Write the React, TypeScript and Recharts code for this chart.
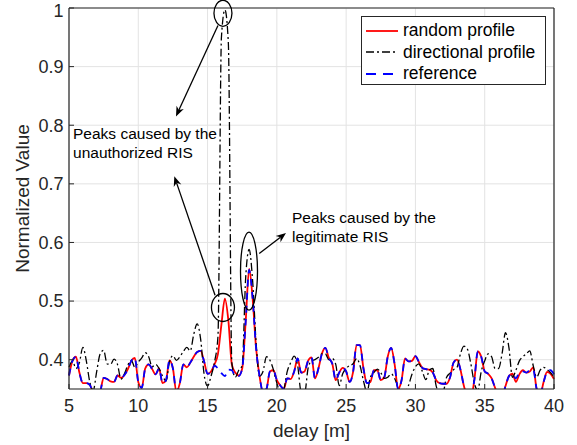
import React from "react";
import { LineChart, Line, XAxis, YAxis, CartesianGrid, ReferenceDot, ReferenceLine, Legend } from "recharts";

const RED = "#ff0000";
const BLUE = "#0000ff";
const BLACK = "#000000";
const AXIS = "#262626";
const GRID = "#e3e3e3";
const FONT = "Helvetica, Arial, 'Liberation Sans', sans-serif";

// delay [m], sampled every 0.25 m
const delay = [
  5, 5.25, 5.5, 5.75, 6, 6.25, 6.5, 6.75, 7, 7.25, 7.5, 7.75, 8, 8.25, 8.5, 8.75,
  9, 9.25, 9.5, 9.75, 10, 10.25, 10.5, 10.75, 11, 11.25, 11.5, 11.75, 12, 12.25, 12.5, 12.75,
  13, 13.25, 13.5, 13.75, 14, 14.25, 14.5, 14.75, 15, 15.25, 15.5, 15.75, 16, 16.25, 16.5, 16.75,
  17, 17.25, 17.5, 17.75, 18, 18.25, 18.5, 18.75, 19, 19.25, 19.5, 19.75, 20, 20.25, 20.5, 20.75,
  21, 21.25, 21.5, 21.75, 22, 22.25, 22.5, 22.75, 23, 23.25, 23.5, 23.75, 24, 24.25, 24.5, 24.75,
  25, 25.25, 25.5, 25.75, 26, 26.25, 26.5, 26.75, 27, 27.25, 27.5, 27.75, 28, 28.25, 28.5, 28.75,
  29, 29.25, 29.5, 29.75, 30, 30.25, 30.5, 30.75, 31, 31.25, 31.5, 31.75, 32, 32.25, 32.5, 32.75,
  33, 33.25, 33.5, 33.75, 34, 34.25, 34.5, 34.75, 35, 35.25, 35.5, 35.75, 36, 36.25, 36.5, 36.75,
  37, 37.25, 37.5, 37.75, 38, 38.25, 38.5, 38.75, 39, 39.25, 39.5, 39.75, 40,
];

const randomProfile = [
  0.373, 0.398, 0.405, 0.378, 0.36, 0.36, 0.357, 0.343, 0.335, 0.345, 0.369, 0.367, 0.363, 0.362, 0.373, 0.369,
  0.374, 0.384, 0.398, 0.403, 0.362, 0.352, 0.385, 0.392, 0.384, 0.375, 0.385, 0.36, 0.365, 0.399, 0.385, 0.345,
  0.36, 0.392, 0.387, 0.395, 0.405, 0.413, 0.415, 0.397, 0.376, 0.38, 0.392, 0.41, 0.46, 0.504, 0.467, 0.392,
  0.378, 0.373, 0.385, 0.465, 0.555, 0.505, 0.42, 0.372, 0.345, 0.35, 0.38, 0.382, 0.365, 0.356, 0.35, 0.368,
  0.367, 0.38, 0.402, 0.378, 0.38, 0.398, 0.404, 0.368, 0.385, 0.41, 0.42, 0.403, 0.393, 0.365, 0.378, 0.386,
  0.38, 0.362, 0.379, 0.425, 0.425, 0.385, 0.36, 0.362, 0.382, 0.382, 0.365, 0.37, 0.405, 0.42, 0.392, 0.35,
  0.365, 0.402, 0.397, 0.398, 0.406, 0.396, 0.386, 0.384, 0.383, 0.378, 0.365, 0.36, 0.359, 0.359, 0.37, 0.395,
  0.4, 0.383, 0.355, 0.337, 0.335, 0.365, 0.414, 0.405, 0.38, 0.376, 0.368, 0.352, 0.338, 0.336, 0.355, 0.372,
  0.376, 0.362, 0.375, 0.382, 0.378, 0.38, 0.387, 0.35, 0.34, 0.362, 0.379, 0.376, 0.367,
];

const directionalProfile = [
  0.387, 0.398, 0.385, 0.395, 0.421, 0.398, 0.362, 0.348, 0.38, 0.41, 0.416, 0.393, 0.392, 0.401, 0.392, 0.367,
  0.376, 0.391, 0.399, 0.387, 0.396, 0.403, 0.412, 0.405, 0.388, 0.392, 0.385, 0.372, 0.364, 0.396, 0.407, 0.399,
  0.405, 0.414, 0.421, 0.415, 0.443, 0.461, 0.435, 0.375, 0.355, 0.372, 0.396, 0.44, 0.95, 0.997, 0.94, 0.395,
  0.37, 0.382, 0.39, 0.54, 0.588, 0.535, 0.43, 0.372, 0.38, 0.405, 0.399, 0.383, 0.36, 0.345, 0.35, 0.38,
  0.395, 0.406, 0.39, 0.345, 0.342, 0.385, 0.398, 0.4, 0.404, 0.41, 0.41, 0.4, 0.402, 0.392, 0.356, 0.376,
  0.385, 0.39, 0.393, 0.402, 0.39, 0.364, 0.345, 0.37, 0.378, 0.384, 0.378, 0.368, 0.37, 0.376, 0.368, 0.353,
  0.345, 0.343, 0.356, 0.375, 0.388, 0.393, 0.38, 0.366, 0.382, 0.385, 0.355, 0.342, 0.345, 0.37, 0.377, 0.383,
  0.387, 0.41, 0.423, 0.418, 0.393, 0.36, 0.348, 0.38, 0.398, 0.41, 0.405, 0.385, 0.385, 0.41, 0.446, 0.42,
  0.37, 0.382, 0.398, 0.405, 0.41, 0.415, 0.39, 0.37, 0.382, 0.387, 0.383, 0.378, 0.37,
];

const referenceProfile = [
  0.373, 0.398, 0.405, 0.378, 0.36, 0.36, 0.357, 0.343, 0.335, 0.345, 0.369, 0.367, 0.363, 0.362, 0.373, 0.369,
  0.374, 0.384, 0.398, 0.403, 0.362, 0.352, 0.385, 0.392, 0.384, 0.375, 0.385, 0.36, 0.365, 0.399, 0.385, 0.345,
  0.36, 0.392, 0.387, 0.395, 0.405, 0.413, 0.415, 0.397, 0.376, 0.378, 0.39, 0.385, 0.377, 0.372, 0.383, 0.382,
  0.372, 0.372, 0.385, 0.465, 0.553, 0.505, 0.42, 0.372, 0.345, 0.35, 0.38, 0.382, 0.365, 0.356, 0.35, 0.368,
  0.367, 0.38, 0.402, 0.378, 0.38, 0.398, 0.404, 0.368, 0.385, 0.41, 0.42, 0.403, 0.393, 0.365, 0.378, 0.386,
  0.38, 0.362, 0.379, 0.425, 0.425, 0.385, 0.36, 0.362, 0.382, 0.382, 0.365, 0.37, 0.405, 0.42, 0.392, 0.35,
  0.365, 0.402, 0.397, 0.398, 0.406, 0.396, 0.386, 0.384, 0.383, 0.378, 0.365, 0.36, 0.359, 0.359, 0.37, 0.395,
  0.4, 0.383, 0.355, 0.337, 0.335, 0.365, 0.414, 0.405, 0.38, 0.376, 0.368, 0.352, 0.338, 0.336, 0.355, 0.372,
  0.376, 0.368, 0.378, 0.38, 0.378, 0.382, 0.383, 0.35, 0.34, 0.362, 0.379, 0.382, 0.375,
];

const xTicks = [5, 10, 15, 20, 25, 30, 35, 40];
const yTicks = [0.4, 0.5, 0.6, 0.7, 0.8, 0.9, 1];

const seriesNames = ["random profile", "directional profile", "reference"];

const rows = delay.map((d, i) => ({
  delay: d,
  random: randomProfile[i],
  directional: directionalProfile[i],
  reference: referenceProfile[i],
}));

// annotations, in data coordinates
const ellipseNotes = [
  { x: 16.11, y: 0.991, rx: 9, ry: 13 },
  { x: 16.11, y: 0.489, rx: 11.5, ry: 14 },
  { x: 17.99, y: 0.551, rx: 8.5, ry: 39 },
];
const arrowNotes = [
  { x1: 15.75, y1: 0.97, x2: 12.72, y2: 0.815 },
  { x1: 15.54, y1: 0.51, x2: 12.6, y2: 0.713 },
  { x1: 18.73, y1: 0.581, x2: 20.66, y2: 0.616 },
];
const textNotes = [
  { x: 5.29, y: 0.786, lines: ["Peaks caused by the", "unauthorized RIS"] },
  { x: 21.09, y: 0.643, lines: ["Peaks caused by the", "legitimate RIS"] },
];

function Arrow(props: any) {
  const { x1, y1, x2, y2 } = props;
  const ang = Math.atan2(y2 - y1, x2 - x1);
  const len = 10;
  const half = 4;
  const bx = x2 - len * Math.cos(ang);
  const by = y2 - len * Math.sin(ang);
  const nx = -Math.sin(ang);
  const ny = Math.cos(ang);
  const mx = x2 - len * 0.7 * Math.cos(ang);
  const my = y2 - len * 0.7 * Math.sin(ang);
  const pts = `${x2},${y2} ${bx + nx * half},${by + ny * half} ${mx},${my} ${bx - nx * half},${by - ny * half}`;
  return (
    <g>
      <line x1={x1} y1={y1} x2={mx} y2={my} stroke={BLACK} strokeWidth={1.3} />
      <polygon points={pts} fill={BLACK} />
    </g>
  );
}

function LegendBox() {
  const sample = (i: number) => {
    if (i === 0) return <line x1={0} y1={5} x2={32} y2={5} stroke={RED} strokeWidth={1.8} />;
    if (i === 1)
      return <line x1={0} y1={5} x2={32} y2={5} stroke={BLACK} strokeWidth={1.3} strokeDasharray="8 3 2 3" />;
    return <line x1={0} y1={5} x2={32} y2={5} stroke={BLUE} strokeWidth={1.8} strokeDasharray="10 7" />;
  };
  return (
    <div
      style={{
        boxSizing: "border-box",
        width: 185,
        height: 69,
        border: `1px solid ${AXIS}`,
        background: "#fff",
        paddingTop: 3,
        fontFamily: FONT,
        fontSize: 17.5,
        color: BLACK,
      }}
    >
      {seriesNames.map((name, i) => (
        <div key={name} style={{ display: "flex", alignItems: "center", height: 21.5, paddingLeft: 4 }}>
          <svg width={32} height={10} style={{ marginRight: 5 }}>
            {sample(i)}
          </svg>
          <span style={{ lineHeight: "21px" }}>{name}</span>
        </div>
      ))}
    </div>
  );
}

export default function App() {
  const tickStyle = { fill: AXIS, fontSize: 18, fontFamily: FONT };
  return (
    <div style={{ position: "absolute", left: 0, top: 0, background: "#fff" }}>
      <LineChart
        width={577}
        height={445}
        data={rows}
        margin={{ top: 7, right: 22, left: 0, bottom: 0 }}
        style={{ fontFamily: FONT }}
      >
        <CartesianGrid stroke={GRID} strokeWidth={1} />
        <XAxis
          dataKey="delay"
          type="number"
          domain={[5, 40]}
          ticks={xTicks}
          height={56}
          tickSize={-5}
          tickMargin={15}
          tick={tickStyle}
          axisLine={{ stroke: AXIS, strokeWidth: 1.2 }}
          tickLine={{ stroke: AXIS }}
          label={{
            content: (p: any) => (
              <text
                x={p.viewBox.x + p.viewBox.width / 2}
                y={p.viewBox.y + 48}
                textAnchor="middle"
                fill={AXIS}
                fontSize={19}
                fontFamily={FONT}
              >
                delay [m]
              </text>
            ),
          }}
        />
        <XAxis
          xAxisId="top"
          orientation="top"
          type="number"
          domain={[5, 40]}
          ticks={xTicks}
          height={1}
          tickSize={-5}
          tick={false}
          axisLine={{ stroke: AXIS, strokeWidth: 1.2 }}
          tickLine={{ stroke: AXIS }}
        />
        <YAxis
          type="number"
          domain={[0.35, 1]}
          ticks={yTicks}
          allowDataOverflow
          width={69}
          tickSize={-5}
          tickMargin={10.5}
          tick={tickStyle}
          axisLine={{ stroke: AXIS, strokeWidth: 1.2 }}
          tickLine={{ stroke: AXIS }}
          label={{
            content: (p: any) => {
              const cx = p.viewBox.x + 22;
              const cy = p.viewBox.y + p.viewBox.height / 2;
              return (
                <text
                  x={cx}
                  y={cy}
                  transform={`rotate(-90 ${cx} ${cy})`}
                  textAnchor="middle"
                  dominantBaseline="central"
                  fill={AXIS}
                  fontSize={19}
                  fontFamily={FONT}
                >
                  Normalized Value
                </text>
              );
            },
          }}
        />
        <YAxis
          yAxisId="right"
          orientation="right"
          type="number"
          domain={[0.35, 1]}
          ticks={yTicks}
          width={1}
          tickSize={-5}
          tick={false}
          axisLine={{ stroke: AXIS, strokeWidth: 1.2 }}
          tickLine={{ stroke: AXIS }}
        />
        <Line
          type="monotone"
          dataKey="random"
          name={seriesNames[0]}
          stroke={RED}
          strokeWidth={1.8}
          dot={false}
          activeDot={false}
          isAnimationActive={false}
        />
        <Line
          type="monotone"
          dataKey="directional"
          name={seriesNames[1]}
          stroke={BLACK}
          strokeWidth={1.3}
          strokeDasharray="8 3 2 3"
          dot={false}
          activeDot={false}
          isAnimationActive={false}
        />
        <Line
          type="monotone"
          dataKey="reference"
          name={seriesNames[2]}
          stroke={BLUE}
          strokeWidth={1.8}
          strokeDasharray="7 6"
          dot={false}
          activeDot={false}
          isAnimationActive={false}
        />
        {ellipseNotes.map((e, i) => (
          <ReferenceDot
            key={`e${i}`}
            x={e.x}
            y={e.y}
            r={1}
            shape={(p: any) => (
              <ellipse cx={p.cx} cy={p.cy} rx={e.rx} ry={e.ry} fill="none" stroke={BLACK} strokeWidth={1.3} />
            )}
          />
        ))}
        {arrowNotes.map((a, i) => (
          <ReferenceLine
            key={`a${i}`}
            segment={[
              { x: a.x1, y: a.y1 },
              { x: a.x2, y: a.y2 },
            ]}
            shape={(p: any) => <Arrow {...p} />}
          />
        ))}
        {textNotes.map((t, i) => (
          <ReferenceDot
            key={`t${i}`}
            x={t.x}
            y={t.y}
            r={1}
            shape={(p: any) => (
              <text x={p.cx} y={p.cy} fill={BLACK} fontSize={15.5} fontFamily={FONT} dominantBaseline="central">
                {t.lines.map((ln, j) => (
                  <tspan key={j} x={p.cx} dy={j === 0 ? 0 : 19}>
                    {ln}
                  </tspan>
                ))}
              </text>
            )}
          />
        ))}
        <Legend
          layout="vertical"
          align="center"
          verticalAlign="middle"
          wrapperStyle={{ left: 361, top: 16, width: 185, height: 69 }}
          content={() => <LegendBox />}
        />
      </LineChart>
    </div>
  );
}
